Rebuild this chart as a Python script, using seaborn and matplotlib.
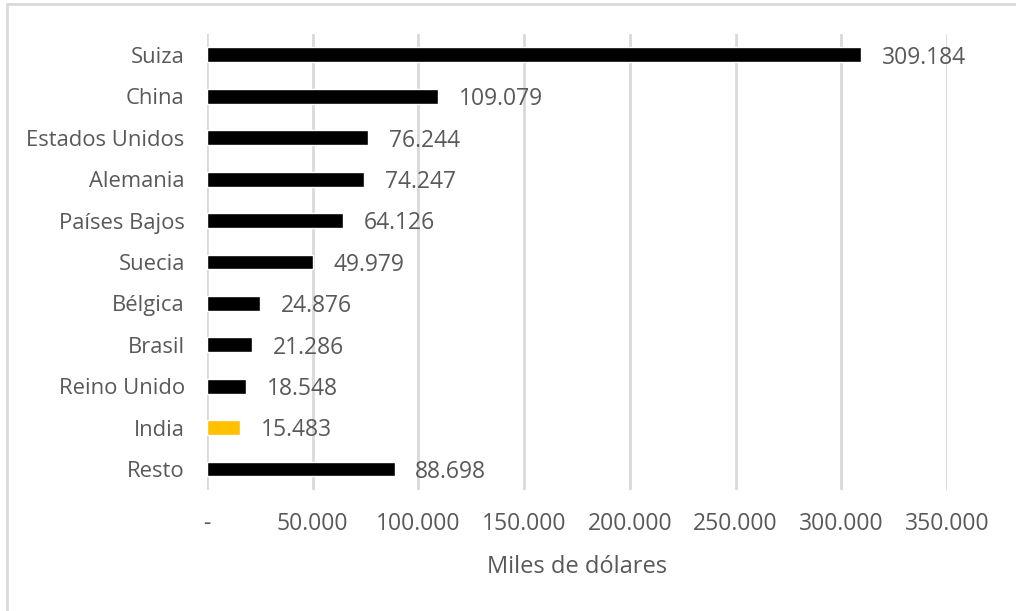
"""Horizontal bar chart: destinos de exportación (miles de dólares)"""

import matplotlib
matplotlib.use("Agg")
import matplotlib.pyplot as plt
from matplotlib.lines import Line2D
from matplotlib.ticker import FuncFormatter
import pandas as pd
import seaborn as sns

sns.set_theme(style="white")
plt.rcParams['font.family'] = ['Open Sans', 'DejaVu Sans']

paises = ['Suiza', 'China', 'Estados Unidos', 'Alemania', 'Países Bajos', 'Suecia',
          'Bélgica', 'Brasil', 'Reino Unido', 'India', 'Resto']
valores = [309184, 109079, 76244, 74247, 64126, 49979,
           24876, 21286, 18548, 15483, 88698]
colores = ['#000000'] * 9 + ['#FFC000', '#000000']

txt = '#595959'


def miles(v, pos=None):
    if v == 0:
        return '-'
    return '{:,.0f}'.format(v).replace(',', '.')


df = pd.DataFrame({'pais': paises, 'valor': valores})

fig = plt.figure(figsize=(10.16, 6.11), dpi=100)
ax = fig.add_axes([0.2037, 0.1985, 0.7284, 0.7455])

sns.barplot(data=df, x='valor', y='pais', hue='pais', palette=colores,
            legend=False, width=0.36, saturation=1, ax=ax, zorder=3)

ax.set_xlim(0, 350000)
ax.set_xticks(range(0, 350001, 50000))
ax.xaxis.set_major_formatter(FuncFormatter(miles))
ax.grid(axis='x', color='#D9D9D9', lw=2, zorder=0)
ax.set_axisbelow(True)
sns.despine(ax=ax, left=True, bottom=True)
ax.tick_params(axis='both', length=0, labelcolor=txt)
ax.tick_params(axis='y', pad=16, labelsize=15.8)
ax.tick_params(axis='x', pad=16, labelsize=16.5)
ax.set_ylabel('')
ax.set_xlabel('Miles de dólares', fontsize=17, color=txt, labelpad=14)

# etiquetas de valor
for cont in ax.containers:
    anns = ax.bar_label(cont, labels=[miles(v) for v in cont.datavalues],
                        padding=15, fontsize=16.5, color=txt)
    for a in anns:
        a.xyann = (15, -2)

# marco del gráfico
fig.add_artist(Line2D([7 / 1016, 7 / 1016], [0, 1 - 4 / 611],
                      transform=fig.transFigure, color='#D9D9D9', lw=2))
fig.add_artist(Line2D([7 / 1016, 1], [1 - 4 / 611, 1 - 4 / 611],
                      transform=fig.transFigure, color='#D9D9D9', lw=2))

fig.savefig('out.png', dpi=100)
